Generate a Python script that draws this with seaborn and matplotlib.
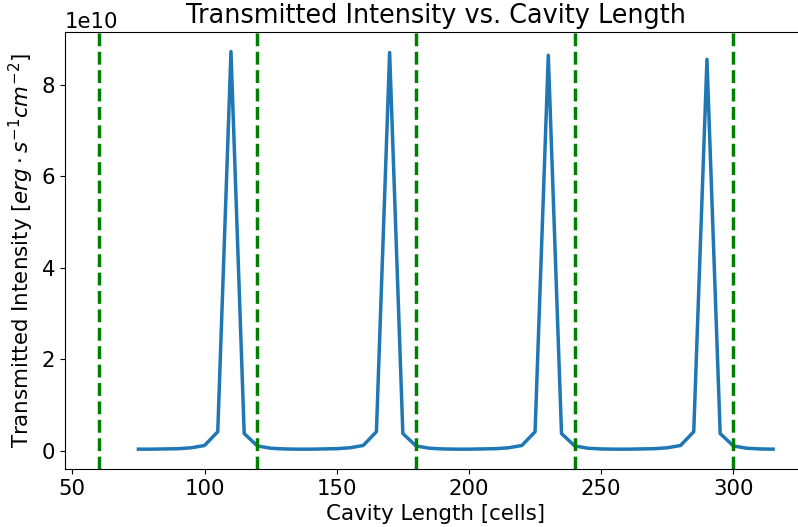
import matplotlib
matplotlib.use("Agg")
import matplotlib.pyplot as plt
import seaborn as sns
import numpy as np
import pandas as pd

cavity_length = list(range(75, 320, 5))
intensity_e10 = [
    0.04, 0.04, 0.045, 0.05, 0.07, 0.12, 0.42, 8.72, 0.38, 0.11, 0.06, 0.045,
    0.04, 0.04, 0.045, 0.05, 0.07, 0.12, 0.42, 8.70, 0.38, 0.11, 0.06, 0.045,
    0.04, 0.04, 0.045, 0.05, 0.07, 0.12, 0.42, 8.64, 0.38, 0.11, 0.06, 0.045,
    0.04, 0.04, 0.045, 0.05, 0.07, 0.12, 0.42, 8.55, 0.38, 0.11, 0.06, 0.045,
    0.04,
]
resonance_lines = [60, 120, 180, 240, 300]

df = pd.DataFrame({"L": cavity_length, "I": np.array(intensity_e10) * 1e10})

fig = plt.figure(figsize=(7.98, 5.27), dpi=100)
ax = fig.add_axes([0.0815, 0.110, 0.9295, 0.8298])
sns.lineplot(data=df, x="L", y="I", ax=ax, linewidth=2.5, color="#1f77b4")
for v in resonance_lines:
    ax.axvline(v, color="green", linestyle="--", linewidth=2.5)

ax.set_title("Transmitted Intensity vs. Cavity Length", fontsize=18.4)
ax.set_xlabel("Cavity Length [cells]", fontsize=15.4)
ax.set_ylabel(r"Transmitted Intensity [$erg \cdot s^{-1} cm^{-2}$]", fontsize=15.4)
ax.tick_params(labelsize=15.3)
ax.yaxis.get_offset_text().set_fontsize(15.3)
fig.savefig("out.png", dpi=100)
